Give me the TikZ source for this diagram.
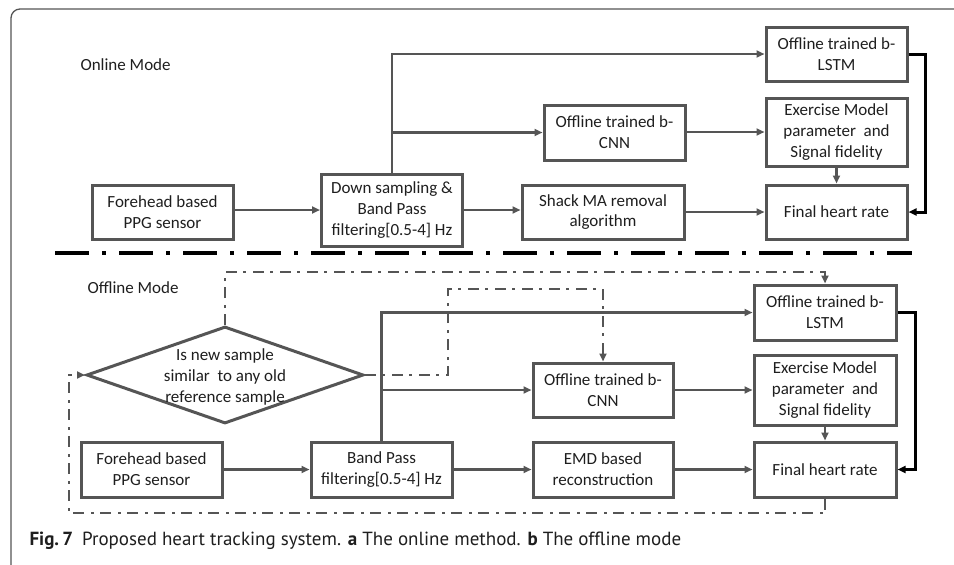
\documentclass[tikz,border=0pt]{standalone}
\usepackage{fontspec}
\setmainfont{Carlito}
\newfontfamily\capfont{PT Sans}
\usepackage{xcolor}
\usetikzlibrary{shapes.geometric,arrows.meta,positioning,calc}

\definecolor{boxgray}{HTML}{555555}
\definecolor{txtgray}{HTML}{1E1E1E}

\begin{document}
\begin{tikzpicture}[x=1pt, y=-1pt,
    >={Triangle[length=8pt,width=7pt]},
    box/.style={rectangle, draw=boxgray, line width=3pt, inner sep=0pt, align=center,
        text=txtgray, font=\fontsize{17}{20.7}\selectfont, minimum width=141pt, minimum height=54pt},
    link/.style={->, draw=boxgray, line width=2.5pt},
    back/.style={->, draw=black, line width=3pt},
    dd/.style={draw=boxgray, line width=2.6pt, dash pattern=on 11pt off 6pt on 3pt off 7pt},
    modetext/.style={anchor=west, text=txtgray, font=\fontsize{17}{20.7}\selectfont}]
    \useasboundingbox (0,0) rectangle (954,565);
    \draw [boxgray, line width=1.3pt, rounded corners=9pt] (11,566) -- (11,9) -- (956,9);

    \node (onMode) [modetext] at (77,65) {Online Mode};
    \node (onFore) [box] at (162.5,212) {Forehead based\\PPG sensor};
    \node (onDown) [box, minimum height=72pt] at (392,210) {Down sampling \&\\Band Pass\\filtering[0.5-4] Hz};
    \node (onLstm) [box] at (836.5,54) {Offline trained b-\\LSTM};
    \node (onCnn) [box, minimum height=55pt] at (614.5,132.5) {Offline trained b-\\CNN};
    \node (onExer) [box, minimum height=68pt] at (836.5,132) {Exercise Model\\parameter~ and\\Signal fidelity};
    \node (onFinal) [box] at (836.5,212) {Final heart rate};
    \node (onShack) [box, minimum width=162pt] at (603,212) {Shack MA removal\\algorithm};

    \draw [link] (onFore.east |- onDown.west) -- (onDown.west);
    \draw [link] (onDown.north) |- (onLstm.west);
    \draw [link] (onDown.north |- onCnn.west) -- (onCnn.west);
    \draw [link] (onDown.east) -- (onShack.west |- onDown.east);
    \draw [link] (onShack.east) -- (onFinal.west);
    \draw [link] (onCnn.east |- onExer.west) -- (onExer.west);
    \draw [link] (onExer.south) -- (onFinal.north);
    \draw [back] (onLstm.east) -- ++(17,0) |- (onFinal.east);

    \coordinate (sepL) at (55,253);
    \coordinate (sepR) at (912,253);
    \draw [black, line width=4.5pt, dash pattern=on 34pt off 13pt on 4pt off 13pt] (sepL) -- (sepR);

    \node (offMode) [modetext] at (84,288) {Offline Mode};
    \node (offDec) [diamond, draw=boxgray, line width=3pt, inner sep=0pt, minimum width=277pt, minimum height=97pt] at (225,375) {};
    \node (offDecText) [align=center, text=txtgray, font=\fontsize{17}{20.7}\selectfont] at (225,377) {Is new sample\\similar~ to any old\\reference sample};
    \node (offFore) [box, minimum height=55pt] at (151.5,469.5) {Forehead based\\PPG sensor};
    \node (offBand) [box, minimum height=55pt] at (381.5,469.5) {Band Pass\\filtering[0.5-4] Hz};
    \node (offLstm) [box, minimum width=142pt, minimum height=55pt] at (825,312.5) {Offline trained b-\\LSTM};
    \node (offCnn) [box, minimum width=140pt] at (603,390) {Offline trained b-\\CNN};
    \node (offExer) [box, minimum width=142pt, minimum height=70pt] at (825,390) {Exercise Model\\parameter~ and\\Signal fidelity};
    \node (offFinal) [box, minimum width=142pt, minimum height=55pt] at (825,469.5) {Final heart rate};
    \node (offEmd) [box, minimum width=140pt, minimum height=55pt] at (603,469.5) {EMD based\\reconstruction};

    \draw [link] (offFore.east) -- (offBand.west);
    \draw [link] (offBand.north) |- (offLstm.west);
    \draw [link] (offBand.north |- offCnn.west) -- (offCnn.west);
    \draw [link] (offBand.east) -- (offEmd.west);
    \draw [link] (offEmd.east) -- (offFinal.west);
    \draw [link] (offCnn.east) -- (offExer.west);
    \draw [link] (offExer.south) -- (offFinal.north);
    \draw [back] (offLstm.east) -- ++(18,0) |- (offFinal.east);

    \coordinate (topRun) at (225,272);
    \coordinate (midRun) at (448,289);
    \coordinate (lowRun) at (69,513);
    \draw [dd, ->] (offDec.north) -- (topRun) -| (offLstm.north);
    \draw [dd, ->] (offDec.east) -| (midRun) -| (offCnn.north);
    \draw [dd, ->] (offFinal.south) |- (lowRun) |- (offDec.west);

    \node (caption) [anchor=west, text=txtgray, font=\capfont\fontsize{19}{23}\selectfont] at (26,541)
        {\textbf{Fig.\,7}\hspace{9pt}Proposed heart tracking system. \textbf{a} The online method. \textbf{b} The offline mode};
\end{tikzpicture}
\end{document}
